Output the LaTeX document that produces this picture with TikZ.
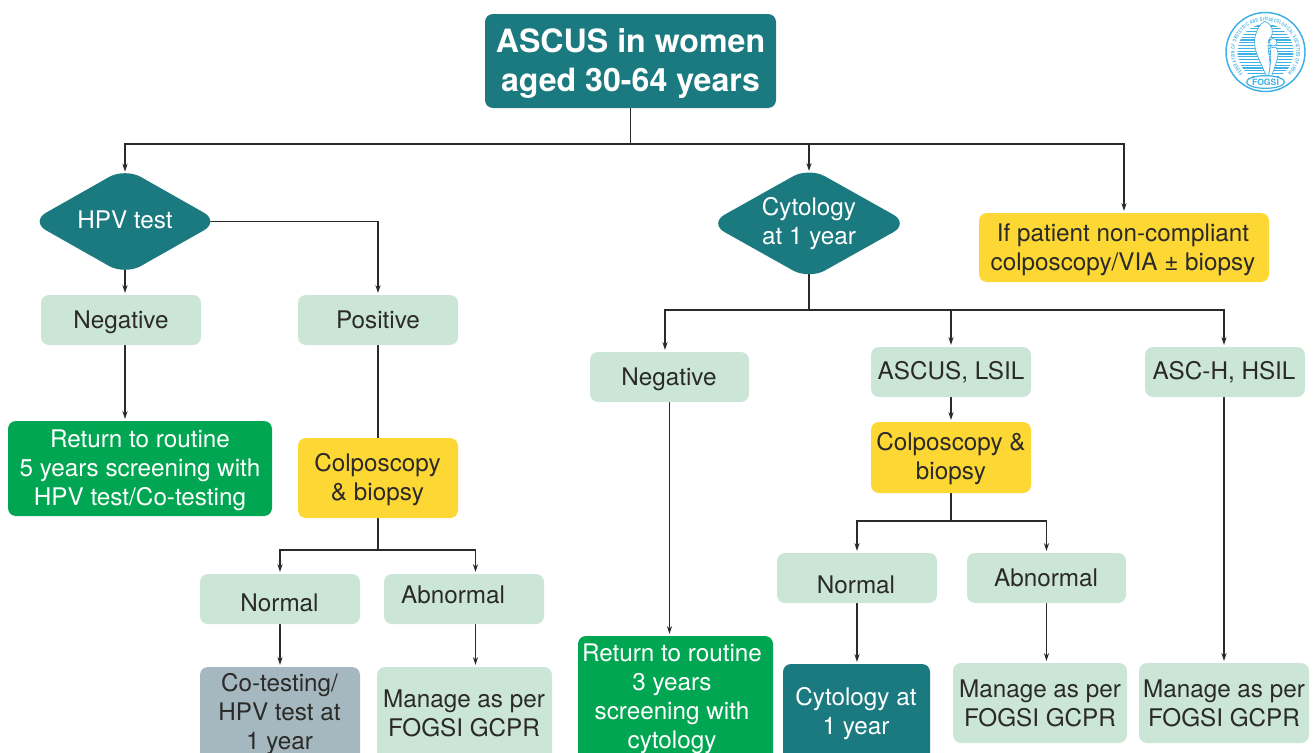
\documentclass[tikz,border=0pt]{standalone}
\usepackage{fontspec}
\setmainfont{TeX Gyre Heros}
\newfontfamily\logofont[FakeStretch=0.62]{TeX Gyre Heros}
\usetikzlibrary{arrows.meta,backgrounds,shapes.geometric,decorations.text}
\definecolor{teal1}{HTML}{1A7A80}
\definecolor{mint}{HTML}{CBE6D6}
\definecolor{sun}{HTML}{FDD733}
\definecolor{grn}{HTML}{00A651}
\definecolor{slate}{HTML}{A5B8BF}
\definecolor{ink}{HTML}{2B2A29}
\definecolor{logoblue}{HTML}{3DB1E3}
\tikzset{
  boxbase/.style={rectangle,rounded corners=6pt,inner sep=0pt,outer sep=0pt,text=ink,
    font=\fontsize{18.2pt}{21.75pt}\selectfont},
  mintbox/.style={boxbase,fill=mint},
  sunbox/.style={boxbase,fill=sun},
  grnbox/.style={boxbase,fill=grn,text=white},
  slatebox/.style={boxbase,fill=slate},
  tealbox/.style={boxbase,fill=teal1,text=white},
  titlebox/.style={tealbox,font=\fontsize{24.1pt}{29.25pt}\selectfont\bfseries},
  decision/.style={boxbase,diamond,shape aspect=1.7,rounded corners=13.5pt,fill=teal1,text=white},
  conn/.style={draw=ink,line width=0.85pt},
  arr/.style={conn,-{Stealth[length=6pt,width=3.9pt]},shorten >=1.5pt},
  arrd/.style={conn,-{Stealth[length=6pt,width=3.9pt]},shorten >=-2.7pt},
}
% [style]{name}{x0}{y0}{x1}{y1}{text centre x}{first baseline y}{text, lines split by \\}
\newcommand\bx[9][mintbox]{%
  \pgfmathsetmacro\bcx{(#3+#5)/2}\pgfmathsetmacro\bcy{(#4+#6)/2}%
  \pgfmathsetmacro\bw{(#5-#3)*0.75}\pgfmathsetmacro\bh{(#6-#4)*0.75}%
  \pgfmathsetmacro\bdx{(#7-\bcx)*1.5}\pgfmathsetmacro\bdy{(\bcy-#8)*0.75}%
  \node[#1,minimum width=\bw pt,minimum height=\bh pt] (#2) at (\bcx,\bcy)
    {\raisebox{\bdy pt}[0pt][0pt]{\makebox[0pt]{\hspace*{\bdx pt}\begin{tabular}[t]{@{}c@{}}#9\end{tabular}}}};%
}
\begin{document}
\begin{tikzpicture}[x=0.75pt,y=-0.75pt]
\useasboundingbox (0,0) rectangle (1315,753);
\bx[titlebox]{title}{485}{14}{776}{108}{630.5}{52}{ASCUS in women\\aged 30-64 years}
\bx[decision]{hpv}{30.5}{168}{219.5}{275}{125}{228.5}{HPV test}
\bx[decision]{cyt}{709}{167.4}{909}{279.4}{809}{215}{Cytology\\at 1 year}
\bx[sunbox]{noncomp}{979}{213}{1269}{282}{1123}{241}{If patient non-compliant\\colposcopy/VIA ± biopsy}
\bx{negl}{41}{295}{201}{345}{121}{328}{Negative}
\bx{posl}{298}{295}{458}{345}{378}{328}{Positive}
\bx[grnbox]{retl}{8}{421}{272}{516}{140}{447.5}{Return to routine\\5 years screening with\\HPV test/Co-testing}
\bx[sunbox]{colpl}{298}{438}{458}{518}{377.5}{471}{Colposcopy\\\& biopsy}
\bx{norml}{200}{574}{360}{624}{279.5}{611}{Normal}
\bx{abnl}{384}{574}{544}{624}{453}{603.5}{Abnormal}
\bx[slatebox]{cot}{200}{667}{360}{775}{279.5}{691}{Co-testing/\\HPV test at\\1 year}
\bx{manl}{377}{667}{552}{775}{464}{707}{Manage as per\\FOGSI GCPR}
\bx{negm}{590}{352}{749}{402}{669}{385}{Negative}
\bx{asc}{871}{347}{1031}{397}{951}{379}{ASCUS, LSIL}
\bx{asch}{1145}{347}{1305}{397}{1224}{379}{ASC-H, HSIL}
\bx[sunbox]{colpr}{871}{422}{1031}{493}{951}{450}{Colposcopy \&\\biopsy}
\bx[grnbox]{retm}{578}{636}{773}{775}{672}{661}{Return to routine\\3 years\\screening with\\cytology}
\bx{normr}{777}{553}{937}{603}{856}{593}{Normal}
\bx{abnr}{967}{553}{1126}{603}{1046}{586}{Abnormal}
\bx[tealbox]{cyt1}{783}{664}{930}{775}{856}{705}{Cytology at\\1 year}
\bx{manm}{953}{663}{1127}{743}{1040}{697}{Manage as per\\FOGSI GCPR}
\bx{manr}{1139}{663}{1309}{743}{1224}{697}{Manage as per\\FOGSI GCPR}
\coordinate (j1) at (630.5,144);
\coordinate (j2) at (809,310);
\coordinate (j3) at (378,550);
\coordinate (j4) at (951,521);
\begin{scope}[on background layer]
\draw[conn] (title.south) -- (j1);
\draw[arrd] (j1) -| (hpv.north);
\draw[arrd] (j1) -| (cyt.north);
\draw[arr] (j1) -| (noncomp.north);
\draw[arr] (hpv.center) -- (hpv.center |- negl.north);
\draw[arr] (hpv.center) -| (posl.north);
\draw[arr] (hpv.center |- negl.south) -- (hpv.center |- retl.north);
\draw[conn] (posl.south) -- (colpl.north -| posl.south);
\draw[conn] (colpl.south -| j3) -- (j3);
\draw[arr] (j3) -| (norml.north);
\coordinate (abx) at (475.5,574);
\draw[arr] (j3) -| (abx);
\draw[arr] (norml.south) -- (cot.north);
\draw[arr] (abx |- abnl.south) -- (abx |- manl.north);
\draw[conn] (cyt.center) -- (j2);
\coordinate (negx) at (665,352);
\draw[arr] (j2) -| (negx);
\draw[arr] (j2) -| (asc.north);
\draw[arr] (j2) -| (asch.north -| manr.north);
\draw[arr] (negm.south) -- (negm.south |- retm.north);
\draw[arr] (asc.south) -- (colpr.north);
\draw[conn] (colpr.south) -- (j4);
\draw[arr] (j4) -| (normr.north);
\draw[arr] (j4) -| (abnr.north);
\draw[arr] (normr.south) -- (normr.south |- cyt1.north);
\draw[arr] (abnr.south) -- (abnr.south |- manm.north);
\draw[arr] (manr.north |- asch.south) -- (manr.north);
\end{scope}
% FOGSI logo
\begin{scope}[shift={(1265.5,52)},x=0.75pt,y=0.75pt]
\draw[logoblue,line width=1.1pt,fill=white] (0,0) circle (39.5);
\begin{scope}
\clip (0,0) circle (28);
\foreach \yy in {-30,-27.2,...,30} \draw[logoblue,line width=1pt] (-30,\yy) -- (30,\yy);
\end{scope}
\draw[logoblue,line width=0.5pt,fill=white] (-0.7,30.7) .. controls (-6,28) and (-9,22) .. (-10.7,14)
  .. controls (-12,4) and (-8,-3) .. (-5.7,-9.3) .. controls (-3,-15) and (-1,-20) .. (1,-24.3)
  -- (3,-24.3) .. controls (4,-18) and (5,-14) .. (4.3,-9.3) .. controls (3.5,-2) and (2,4) .. (2.7,10.7)
  .. controls (3,13) and (5,14) .. (6,15.7) .. controls (7.5,20) and (8,27) .. (-0.7,30.7) -- cycle;
\draw[logoblue,line width=0.5pt,fill=white] (4.3,5.7) .. controls (7,3) and (10,6) .. (11,4)
  .. controls (13,-1) and (13,-3) .. (12,-6) .. controls (10,-14) and (8,-18) .. (6,-24.3)
  -- (3,-24.3) .. controls (5,-14) and (6,-3) .. (4.3,5.7) -- cycle;
\draw[logoblue,line width=0.5pt,fill=white] (7.7,9.7) circle (3.8);
\path[decorate,decoration={text along path,text align=fit to path,
  text={|\logofont\fontsize{3.8pt}{5pt}\selectfont\bfseries\color{logoblue}|FEDERATION OF OBSTETRIC AND GYNAECOLOGICAL SOCIETIES OF INDIA}}]
  (0,0) ++(224:31) arc[start angle=224,end angle=-44,radius=31];
\node[ellipse,draw=logoblue,line width=0.9pt,fill=white,minimum width=21pt,minimum height=9.5pt,inner sep=0pt,
  text=logoblue,font=\fontsize{6.5pt}{7pt}\selectfont\bfseries] (logomark) at (0,-30) {FOGSI};
\end{scope}
\end{tikzpicture}
\end{document}
